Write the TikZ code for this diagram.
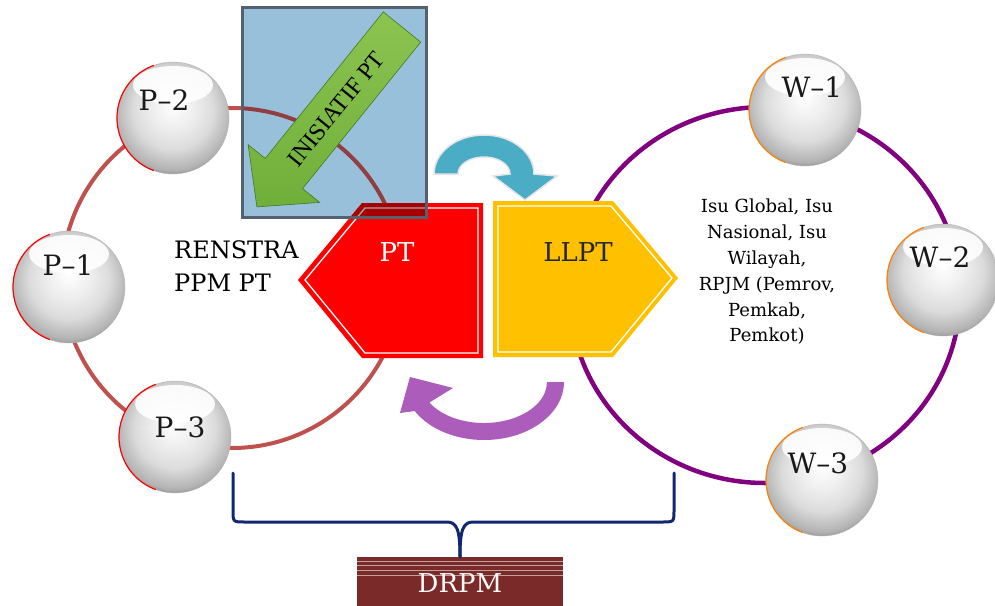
\documentclass[tikz,border=0pt]{standalone}
\usepackage{fontspec}
\setmainfont{DejaVu Serif}
\newfontfamily\timesf{Liberation Serif}
\definecolor{ringP}{RGB}{192,80,77}
\definecolor{ringPd}{RGB}{145,62,66}
\definecolor{ringW}{RGB}{128,0,128}
\definecolor{boxblue}{RGB}{152,192,218}
\definecolor{boxedge}{RGB}{84,98,112}
\definecolor{ptred}{RGB}{255,0,0}
\definecolor{llptyel}{RGB}{255,192,0}
\definecolor{cyanarr}{RGB}{75,172,198}
\definecolor{purparr}{RGB}{172,92,186}
\definecolor{navyb}{RGB}{18,40,110}
\definecolor{drpmc}{RGB}{122,42,40}
\definecolor{garrow}{RGB}{112,174,58}
\definecolor{garrowl}{RGB}{140,196,80}
\definecolor{garrowd}{RGB}{70,120,30}
\pgfdeclareradialshading{orbshade}{\pgfpoint{0bp}{6bp}}{%
  color(0bp)=(white); color(10bp)=(white!93!black); color(18bp)=(white!86!black);
  color(26bp)=(white!70!black); color(31bp)=(white!45!black); color(50bp)=(white!45!black)}
\newcommand\myorb[7]{%
  \node[orb] (#1) at (#2,#3) {};
  \fill[white,opacity=.9] (#2,#3) ++(0,-33) ellipse (40 and 19);
  \draw[#7, line width=1.2pt] (#2,#3) ++(110:56) arc (110:250:56);
  \node[orblbl] (#1t) at (#4,#5) {#6};}
\begin{document}
\begin{tikzpicture}[x=1pt,y=-1pt,
  orb/.style={circle, minimum size=112pt, inner sep=0pt, shading=orbshade, draw=gray!60, line width=0.4pt},
  orblbl/.style={font=\fontsize{28}{30}\selectfont, text=black!90},
  ringl/.style={ringP, line width=4pt},
  ringr/.style={ringW, line width=4.5pt},
  bracestyle/.style={navyb, line width=3pt, line join=round, line cap=round},
]
\useasboundingbox (0,0) rectangle (995,605);
\fill[white] (0,0) rectangle (995,605);

% rings
\draw[ringl] (232,278) circle (170);
\draw[ringr] (765,295) ellipse (195 and 188);

% blue box fill
\node[fill=boxblue, minimum width=183pt, minimum height=209pt, inner sep=0pt] (box) at (334.5,112.5) {};
\begin{scope}
  \clip (243,8) rectangle (426,217);
  \draw[ringPd, line width=4pt] (232,278) circle (170);
\end{scope}

% hexagons
\fill[ptred] (298,280) -- (362,203) -- (483,203) -- (483,358) -- (362,358) -- cycle;
\draw[white, line width=1.3pt] (305,280) -- (365,208) -- (478,208) -- (478,353) -- (365,353) -- cycle;
\fill[llptyel] (493,201) -- (613,201) -- (678,278) -- (613,357) -- (493,357) -- cycle;
\draw[white, line width=1.3pt] (498,206) -- (611,206) -- (672,278) -- (611,352) -- (498,352) -- cycle;
\begin{scope}
  \clip (243,8) rectangle (426,217);
  \fill[black, opacity=.35] (298,280) -- (362,203) -- (483,203) -- (483,358) -- (362,358) -- cycle;
\end{scope}
\node[text=white, font=\fontsize{26}{28}\selectfont] (pt) at (397,252) {PT};
\node[text=black!85, font=\fontsize{26}{28}\selectfont] (llpt) at (578,252) {LLPT};

% box border
\draw[boxedge, line width=3pt] (box.south west) rectangle (box.north east);

% green arrow
\shade[top color=garrowl, bottom color=garrow, draw=garrowd, line width=0.6pt] (383.3,11.9) -- (420.7,42.1) -- (302.6,188.6) -- (319.7,202.4) -- (256.9,206.9) -- (248.1,144.6) -- (265.2,158.4) -- cycle;
\node[rotate=51, font=\timesf\fontsize{24}{26}\selectfont] (ini) at (336,109) {INISIATIF PT};

% curved arrows
\fill[cyanarr, draw=white!80!gray, line width=1.5pt] (434,174) arc (180:360:50 and 39) -- (557,176) -- (525,200) -- (493,176) -- (510,174) arc (0:-180:26 and 17) -- cycle;
\fill[purparr] (564,382) arc (0:150:80 and 58) -- (400,413) -- (410,377) -- (453,388) -- (429.4,402.5) arc (150:0:63 and 41) -- cycle;

% orbs
\myorb{p2}{173}{118}{164}{100}{P–2}{red}
\myorb{p1}{69}{287}{68}{265}{P–1}{red}
\myorb{p3}{175}{437}{180}{427}{P–3}{red}
\myorb{w1}{805}{110}{812}{87}{W–1}{orange}
\myorb{w2}{943}{280}{940}{257}{W–2}{orange}
\myorb{w3}{822}{480}{818}{463}{W–3}{orange}

% texts
\node[anchor=west, align=left, inner sep=0pt, font=\fontsize{24}{33}\selectfont] (renstra) at (174,266) {RENSTRA\\PPM PT};
\node[align=center, inner sep=0pt, font=\fontsize{18}{25.8}\selectfont] (isu) at (767,272) {Isu Global, Isu\\Nasional, Isu\\Wilayah,\\RPJM (Pemrov,\\Pemkab,\\Pemkot)};

% DRPM
\node[fill=drpmc, minimum width=206pt, minimum height=52pt, inner sep=0pt] (drpm) at (460,583) {};
\foreach \yy in {561,565,570,575} \draw[white!55!drpmc, line width=0.8pt] (357,\yy) -- (563,\yy);
\node[text=white!92!pink, font=\fontsize{26}{28}\selectfont] (drpmt) at (460,583) {DRPM};

% brace
\coordinate (bl) at (233,473);
\coordinate (br) at (674,473);
\draw[bracestyle] (bl) -- (233,510) .. controls (233,522) .. (245,522) -- (447,522) .. controls (457,522) and (460,530) .. (drpm.north);
\draw[bracestyle] (br) -- (674,510) .. controls (674,522) .. (662,522) -- (473,522) .. controls (463,522) and (460,530) .. (drpm.north);
\end{tikzpicture}
\end{document}
